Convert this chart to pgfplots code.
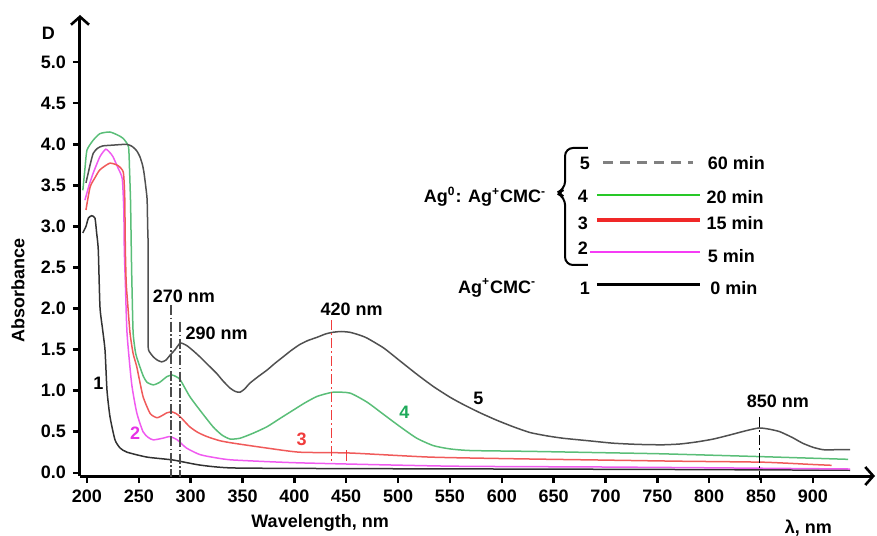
\documentclass[border=0pt]{standalone}
\usepackage{fontspec}
\setmainfont{Liberation Sans}
\usepackage{pgfplots}
\pgfplotsset{compat=1.18}
\usetikzlibrary{arrows.meta}

\definecolor{cOne}{RGB}{50,50,50}
\definecolor{cFive}{RGB}{80,80,80}
\definecolor{cGreen}{RGB}{90,190,120}
\definecolor{cRed}{RGB}{240,90,90}
\definecolor{cMag}{RGB}{240,90,240}
\definecolor{lGreen}{RGB}{40,200,40}
\definecolor{lRed}{RGB}{240,40,40}
\definecolor{lMag}{RGB}{245,60,245}
\definecolor{tGreen}{RGB}{30,170,90}
\definecolor{tRed}{RGB}{240,60,60}
\definecolor{tMag}{RGB}{230,50,230}

\newcommand{\lf}{\fontsize{9}{10.5}\selectfont\bfseries}

\begin{document}
\begin{tikzpicture}
\begin{axis}[
    scale only axis,
    width=397.5pt, height=230.5pt,
    xmin=193.25, xmax=959.9,
    ymin=-0.04, ymax=5.575,
    axis lines=left,
    axis line style={line width=1.5pt, -{Straight Barb[length=4pt,width=9pt,line width=1.3pt]}},
    tick align=outside,
    major tick length=3.5pt,
    tick style={line width=1.2pt, black},
    xtick={200,250,300,350,400,450,500,550,600,650,700,750,800,850,900},
    ytick={0,0.5,1,1.5,2,2.5,3,3.5,4,4.5,5},
    /pgf/number format/assume math mode=true,
    tick label style={font=\lf},
    yticklabel style={/pgf/number format/.cd, fixed, fixed zerofill, precision=1},
    xticklabel style={/pgf/number format/1000 sep={}},
    xlabel={Wavelength, nm},
    ylabel={Absorbance},
    label style={font=\lf},
    xlabel style={at={(axis description cs:0.302,-0.102)}, anchor=center},
    ylabel style={at={(axis description cs:-0.078,0.403)}, anchor=center, rotate=0},
    clip=false,
    every axis plot/.append style={line width=0.75pt},
  ]

  %% curve 1: Ag+CMC-, 0 min
  \addplot[cOne, smooth, tension=0.35] coordinates {
    (195.9,2.92) (199,3.00) (201.3,3.10) (204.5,3.13) (207.7,3.10) (209.3,2.92)
    (210.9,2.71) (212.5,2.02) (215,1.75) (217.4,1.49) (219.3,1.00) (222.2,0.68)
    (227,0.40) (232,0.30) (238.6,0.25) (257.9,0.19) (282.9,0.155) (309,0.093)
    (340.8,0.058) (450,0.05) (600,0.045) (750,0.04) (936,0.03)
  };

  %% curve 2: 5 min
  \addplot[cMag, smooth, tension=0.35] coordinates {
    (198,3.32) (202,3.50) (206,3.65) (212.5,3.85) (218,3.94) (222,3.90) (225,3.85)
    (230,3.71) (234,3.58) (235.5,3.20) (236,2.70) (237,2.31) (238.6,1.70) (243,1.09)
    (248,0.73) (254,0.50) (259,0.43) (264,0.40) (273,0.42) (280,0.44) (287,0.40)
    (296,0.30) (309,0.22) (325,0.18) (341,0.155) (405,0.12) (550,0.08) (692,0.07)
    (800,0.06) (936,0.045)
  };

  %% curve 3: 15 min
  \addplot[cRed, smooth, tension=0.35] coordinates {
    (199,3.20) (203,3.48) (208,3.60) (212.5,3.69) (222,3.77) (230,3.74) (235,3.66)
    (236.3,3.40) (236.6,3.16) (237,2.71) (237.8,2.31) (239,2.10) (241.5,1.70)
    (244.5,1.45) (248,1.29) (254,0.93) (261,0.72) (267.5,0.67) (273,0.70) (277,0.73)
    (282,0.74) (286,0.72) (290,0.68) (299,0.56) (307,0.49) (315.7,0.44) (328,0.39)
    (341,0.36) (373.6,0.30) (405,0.25) (453.6,0.24) (531,0.19) (612,0.17) (692,0.155)
    (772,0.14) (852,0.128) (900,0.10) (918,0.09)
  };

  %% curve 4: 20 min
  \addplot[cGreen, smooth, tension=0.35] coordinates {
    (196,3.44) (198,3.70) (200,3.93) (206,4.05) (212.5,4.13) (222,4.15) (230,4.11)
    (235,4.07) (240,3.97) (241,3.70) (242,3.30) (242.5,2.90) (243,2.50) (243.5,2.20)
    (244.5,1.70) (247,1.45) (251,1.29) (254.5,1.17) (258,1.10) (264,1.07) (270,1.10)
    (277,1.17) (282,1.19) (286,1.17) (290,1.13) (299,0.93) (309,0.76) (321.5,0.56)
    (330,0.46) (338,0.41) (347.5,0.42) (360,0.48) (373.6,0.56) (386,0.66) (398.6,0.76)
    (410,0.85) (422,0.93) (437,0.98) (453.6,0.97) (470,0.86) (486,0.71) (502,0.56)
    (518,0.42) (534,0.33) (550,0.29) (570,0.27) (627,0.26) (692,0.245) (755,0.23)
    (852,0.195) (934,0.163)
  };

  %% curve 5: 60 min
  \addplot[cFive, smooth, tension=0.35] coordinates {
    (199,3.53) (203,3.75) (206,3.89) (210,3.95) (215,3.98) (225,3.99) (238.6,4.00)
    (244,3.97) (248,3.92) (251,3.85) (253.5,3.75) (255,3.65) (257,3.45) (258,3.32)
    (258.5,3.00) (259,2.71) (259,1.61) (259.5,1.49) (264,1.41) (268,1.37) (272,1.35)
    (276,1.37) (280,1.43) (285,1.50) (290,1.58) (296,1.55) (302,1.49) (309,1.41)
    (317,1.31) (325,1.21) (331,1.12) (338,1.03) (343,0.99) (347.5,0.98) (352,1.02)
    (357,1.09) (365,1.17) (373.6,1.25) (381,1.33) (389,1.41) (397,1.49) (405,1.56)
    (413,1.61) (422,1.65) (430,1.69) (437,1.71) (445,1.72) (453.6,1.71) (462,1.68)
    (470,1.64) (486,1.52) (502,1.36) (518,1.20) (534,1.05) (550,0.92) (563,0.83)
    (579,0.73) (595,0.64) (611,0.56) (627,0.49) (643,0.45) (659,0.42) (683,0.39)
    (707,0.36) (731,0.345) (755,0.34) (772,0.35) (788,0.375) (804,0.41) (820,0.46)
    (835,0.51) (848,0.545) (858,0.53) (868,0.50) (880,0.43) (890,0.36) (900,0.31)
    (910,0.28) (922,0.28) (936,0.28)
  };

  %% peak markers
  \addplot[black!70, line width=0.9pt, dash pattern=on 5pt off 1.2pt on 0.8pt off 1.2pt]
    coordinates {(280.7,2.04) (280.7,-0.05)};
  \addplot[black!70, line width=0.9pt, dash pattern=on 5pt off 1.2pt on 0.8pt off 1.2pt]
    coordinates {(289.7,1.83) (289.7,-0.05)};
  \addplot[tRed, line width=0.65pt, dash pattern=on 5pt off 1.5pt on 1pt off 1.5pt]
    coordinates {(436,1.86) (436,0.134)};
  \addplot[tRed, line width=0.7pt] coordinates {(450.3,0.276) (450.3,0.146)};
  \addplot[black, line width=0.7pt, dash pattern=on 5pt off 1.5pt on 1pt off 1.5pt]
    coordinates {(848.3,0.68) (848.3,-0.09)};

  \node[font=\lf] at (axis cs:293.5,2.15) {270 nm};
  \node[font=\lf] at (axis cs:325,1.70) {290 nm};
  \node[font=\lf] at (axis cs:455.2,1.99) {420 nm};
  \node[font=\lf] at (axis cs:866.3,0.865) {850 nm};

  \node[font=\lf] at (axis cs:210.9,1.09) {1};
  \node[font=\lf, text=tMag] at (axis cs:246.3,0.487) {2};
  \node[font=\lf, text=tRed] at (axis cs:407,0.41) {3};
  \node[font=\lf, text=tGreen] at (axis cs:506,0.74) {4};
  \node[font=\lf] at (axis cs:577.4,0.906) {5};

  \node[font=\lf] at (axis cs:162.7,5.35) {D};
  \node[font=\lf] at (axis cs:895.6,-0.68) {λ, nm};

  %% legend
  \draw[line width=1pt, rounded corners=4pt]
    (axis cs:683,3.955) -- (axis cs:661,3.955) -- (axis cs:661,3.45)
    -- (axis cs:652.3,3.407) -- (axis cs:661,3.36) -- (axis cs:661,2.53)
    -- (axis cs:683,2.53);
  \node[font=\lf] at (axis cs:583.8,3.36)
    {Ag\textsuperscript{0}: Ag\textsuperscript{+}CMC\textsuperscript{-}};
  \node[font=\lf] at (axis cs:595.4,2.25)
    {Ag\textsuperscript{+}CMC\textsuperscript{-}};

  \addplot[gray, line width=1.2pt, dash pattern=on 5pt off 3.5pt] coordinates {(697.6,3.78) (784.4,3.78)};
  \addplot[lGreen, line width=0.9pt] coordinates {(691.8,3.38) (791.1,3.38)};
  \addplot[lRed, line width=1.8pt] coordinates {(691.8,3.08) (791.1,3.08)};
  \addplot[lMag, line width=0.9pt] coordinates {(685.1,2.69) (791.1,2.69)};
  \addplot[black, line width=1.5pt] coordinates {(691.8,2.29) (791.1,2.29)};

  \node[font=\lf] at (axis cs:680.2,3.77) {5};
  \node[font=\lf] at (axis cs:678.3,3.37) {4};
  \node[font=\lf] at (axis cs:678.3,3.04) {3};
  \node[font=\lf] at (axis cs:678.3,2.74) {2};
  \node[font=\lf] at (axis cs:680.2,2.25) {1};

  \node[font=\lf, anchor=west, inner sep=0pt] at (axis cs:798.3,3.77) {60 min};
  \node[font=\lf, anchor=west, inner sep=0pt] at (axis cs:797.2,3.36) {20 min};
  \node[font=\lf, anchor=west, inner sep=0pt] at (axis cs:797.2,3.04) {15 min};
  \node[font=\lf, anchor=west, inner sep=0pt] at (axis cs:798.3,2.64) {5 min};
  \node[font=\lf, anchor=west, inner sep=0pt] at (axis cs:800.8,2.25) {0 min};
\end{axis}
\pgfresetboundingbox
\useasboundingbox (-40pt,-29.5pt) rectangle (398.5pt,238pt);
\end{tikzpicture}
\end{document}
